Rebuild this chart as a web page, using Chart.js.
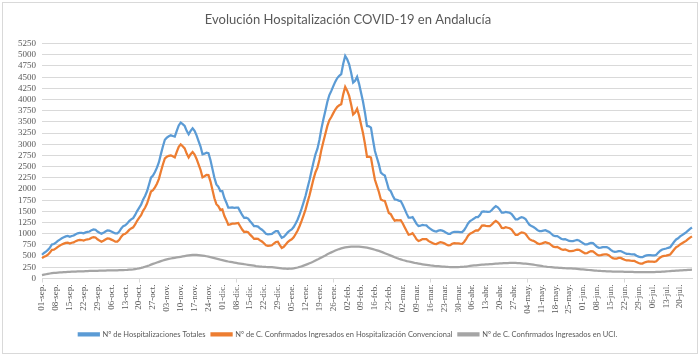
<!DOCTYPE html>
<html>
<head>
<meta charset="utf-8">
<script src="https://cdn.jsdelivr.net/npm/chart.js@4.4.1/dist/chart.umd.min.js"></script>
<style>
html,body{margin:0;padding:0;background:#fff;}
#wrap{width:700px;height:357px;position:relative;}
</style>
</head>
<body>
<div id="wrap"><canvas id="c" width="700" height="357"></canvas></div>
<script>
const chartTitle = "Evolución Hospitalización COVID-19 en Andalucía";
const seriesNames = [
  "Nº de Hospitalizaciones Totales",
  "Nº de C. Confirmados Ingresados en Hospitalización Convencional",
  "Nº de C. Confirmados Ingresados en UCI."
];
const tickLabels = ["01-sep.","08-sep.","15-sep.","22-sep.","29-sep.","06-oct.","13-oct.","20-oct.","27-oct.","03-nov.","10-nov.","17-nov.","24-nov.","01-dic.","08-dic.","15-dic.","22-dic.","29-dic.","05-ene.","12-ene.","19-ene.","26-ene.","02-feb.","09-feb.","16-feb.","23-feb.","02-mar.","09-mar.","16-mar.","23-mar.","30-mar.","06-abr.","13-abr.","20-abr.","27-abr.","04-may.","11-may.","18-may.","25-may.","01-jun.","08-jun.","15-jun.","22-jun.","29-jun.","06-jul.","13-jul.","20-jul."];
const yTicks = {min:0, max:5250, step:250};

const totales = [
530,570,600,640,690,760,770,
800,840,870,900,920,940,950,
930,950,960,990,1010,1020,1020,
1010,1030,1040,1050,1080,1097,1090,
1050,1022,1000,1020,1050,1074,1070,
1050,1030,1007,1007,1050,1120,1171,
1190,1230,1283,1320,1350,1420,1507,
1580,1650,1760,1843,1950,2100,2253,
2300,2380,2477,2600,2780,2950,3100,
3148,3180,3200,3185,3170,3300,3420,
3484,3450,3409,3300,3222,3300,3357,
3300,3200,3073,2950,2775,2790,2812,
2800,2650,2450,2250,2104,2050,1954,
1954,1800,1700,1582,1582,1590,1580,
1582,1582,1500,1420,1357,1360,1340,
1280,1230,1171,1171,1160,1120,1090,
1050,1000,985,990,995,1030,1059,
1059,980,910,930,980,1030,1070,
1097,1150,1230,1320,1432,1560,1700,
1850,2029,2200,2400,2600,2775,2900,
3100,3350,3558,3750,3950,4100,4193,
4300,4400,4480,4530,4566,4800,4976,
4900,4789,4600,4379,4420,4506,4350,
4150,3950,3700,3409,3400,3372,3100,
2850,2700,2550,2365,2327,2300,2150,
1992,1950,1850,1768,1760,1740,1731,
1650,1550,1450,1358,1358,1373,1300,
1220,1171,1180,1200,1190,1186,1140,
1110,1080,1059,1050,1070,1082,1070,
1050,1020,1000,1000,1030,1044,1040,
1040,1037,1037,1080,1150,1230,1283,
1310,1340,1373,1373,1420,1492,1500,
1492,1490,1492,1530,1580,1619,1590,
1540,1470,1470,1490,1480,1470,1440,
1380,1320,1320,1350,1370,1358,1330,
1260,1200,1171,1150,1120,1080,1059,
1059,1070,1080,1059,1040,1000,960,
947,947,920,890,873,880,860,
840,836,836,850,860,850,820,
790,761,761,780,798,790,750,
710,686,690,700,701,701,680,
640,610,597,600,612,612,590,
570,552,552,545,540,537,510,
490,477,477,500,515,522,520,
518,515,530,580,620,649,660,
670,686,700,760,820,873,900,
940,970,1000,1030,1070,1110,1140
];

const convencional = [
455,485,505,535,578,642,646,
672,708,735,762,779,796,803,
781,799,807,835,853,861,860,
848,866,874,882,911,926,918,
877,847,824,843,872,895,890,
869,848,824,823,865,934,983,
1000,1037,1086,1119,1144,1208,1289,
1354,1414,1512,1581,1674,1808,1943,
1974,2038,2119,2227,2392,2548,2684,
2720,2742,2753,2730,2707,2830,2943,
2999,2957,2908,2791,2706,2778,2829,
2770,2672,2549,2431,2262,2285,2315,
2312,2172,1983,1794,1660,1618,1534,
1544,1400,1310,1202,1210,1226,1224,
1234,1242,1167,1094,1038,1047,1033,
980,936,885,893,887,852,826,
789,742,729,736,743,782,816,
821,748,684,709,762,813,852,
875,922,994,1074,1174,1288,1412,
1545,1707,1860,2042,2222,2375,2478,
2654,2880,3064,3234,3410,3538,3609,
3696,3776,3838,3872,3894,4116,4282,
4198,4081,3888,3665,3706,3794,3640,
3444,3248,3004,2721,2722,2704,2444,
2207,2070,1934,1765,1743,1734,1602,
1462,1438,1356,1292,1302,1298,1303,
1236,1148,1060,978,988,1013,950,
878,837,854,882,879,881,841,
817,792,776,771,795,811,803,
786,759,742,744,776,790,786,
784,779,776,816,882,956,1003,
1024,1049,1077,1073,1116,1184,1188,
1177,1172,1171,1206,1253,1289,1257,
1204,1131,1128,1146,1134,1123,1092,
1032,973,975,1008,1031,1023,1000,
935,880,856,841,818,785,771,
778,796,812,797,783,747,711,
702,705,681,654,640,650,632,
614,612,615,632,646,640,614,
588,563,567,590,612,608,572,
536,515,522,534,537,539,520,
482,454,442,446,459,460,439,
420,403,404,398,394,392,366,
346,334,334,358,373,380,378,
375,371,384,432,470,496,504,
511,524,535,592,649,699,723,
760,787,814,841,878,915,942
];

const uci = [
75,85,95,105,112,118,124,
128,132,135,138,141,144,147,
149,151,153,155,157,159,160,
162,164,166,168,169,171,172,
173,175,176,177,178,179,180,
181,182,183,184,185,186,188,
190,193,197,201,206,212,218,
226,236,248,262,276,292,310,
326,342,358,373,388,402,416,
428,438,447,455,463,470,477,
485,493,501,509,516,522,528,
530,528,524,519,513,505,497,
488,478,467,456,444,432,420,
410,400,390,380,372,364,356,
348,340,333,326,319,313,307,
300,294,286,278,273,268,264,
261,258,256,254,252,248,243,
238,232,226,221,218,217,218,
222,228,236,246,258,272,288,
305,322,340,358,378,400,422,
446,470,494,516,540,562,584,
604,624,642,658,672,684,694,
702,708,712,714,714,712,710,
706,702,696,688,678,668,656,
643,630,616,600,584,566,548,
530,512,494,476,458,442,428,
414,402,390,380,370,360,350,
342,334,326,318,311,305,299,
293,288,283,279,275,271,267,
264,261,258,256,254,254,254,
256,258,261,264,268,274,280,
286,291,296,300,304,308,312,
315,318,321,324,327,330,333,
336,339,342,344,346,347,348,
348,347,345,342,339,335,330,
325,320,315,309,302,295,288,
281,274,268,262,257,253,249,
245,242,239,236,233,230,228,
226,224,221,218,214,210,206,
202,198,194,190,186,182,178,
174,171,168,166,164,162,160,
158,156,155,154,153,152,151,
150,149,148,147,146,145,144,
144,143,143,142,142,142,142,
143,144,146,148,150,153,156,
159,162,165,168,171,174,177,
180,183,186,189,192,195,198
];

// daily categories: 01-sep-2020 onward, one per data value
const categories = totales.map((_, i) => {
  const d = new Date(Date.UTC(2020, 8, 1 + i));
  return d.toISOString().slice(0, 10);
});

const FONT = "Lato, 'Liberation Sans', sans-serif";
const AXFONT = "'Liberation Serif', 'DejaVu Serif', serif";
const TXT = '#595959';
const GRID = '#D9D9D9';

const framePlugin = {
  id: 'frame',
  beforeDraw(chart) {
    const ctx = chart.ctx;
    ctx.save();
    ctx.fillStyle = '#fff';
    ctx.fillRect(0, 0, chart.width, chart.height);
    ctx.strokeStyle = '#D9D9D9';
    ctx.lineWidth = 1;
    ctx.strokeRect(2.5, 2.5, chart.width - 5, chart.height - 6);
    ctx.restore();
  }
};

new Chart(document.getElementById('c'), {
  type: 'line',
  data: {
    labels: categories,
    datasets: [
      {label: seriesNames[0], data: totales, borderColor: '#5B9BD5', backgroundColor: '#5B9BD5'},
      {label: seriesNames[1], data: convencional, borderColor: '#ED7D31', backgroundColor: '#ED7D31'},
      {label: seriesNames[2], data: uci, borderColor: '#A5A5A5', backgroundColor: '#A5A5A5'}
    ].map(d => Object.assign(d, {borderWidth: 2.25, pointRadius: 0, tension: 0, fill: false}))
  },
  options: {
    responsive: false,
    animation: false,
    devicePixelRatio: 1,
    layout: {padding: {top: 0, left: 4, right: 8, bottom: 9}},
    plugins: {
      tooltip: {enabled: false},
      title: {
        display: true,
        text: chartTitle,
        color: TXT,
        font: {family: FONT, size: 13, weight: 'normal'},
        padding: {top: 12, bottom: 16}
      },
      legend: {
        position: 'bottom',
        labels: {
          color: TXT,
          font: {family: FONT, size: 7.5},
          boxWidth: 20,
          boxHeight: 2,
          padding: 6
        }
      }
    },
    scales: {
      x: {
        type: 'category',
        offset: false,
        grid: {
          display: true,
          drawOnChartArea: false,
          drawTicks: true,
          tickLength: 4,
          color: (c) => (c.index % 7 === 0 ? GRID : 'rgba(0,0,0,0)')
        },
        border: {display: true, color: GRID},
        ticks: {
          autoSkip: false,
          minRotation: 90,
          maxRotation: 90,
          color: TXT,
          font: {family: AXFONT, size: 9},
          padding: 2,
          callback: (v, i) => (i % 7 === 0 ? tickLabels[i / 7] : null)
        },
        afterFit: (s) => { s.height = 46; }
      },
      y: {
        min: yTicks.min,
        max: yTicks.max,
        grid: {color: GRID, drawTicks: false},
        border: {display: false},
        ticks: {
          autoSkip: false,
          stepSize: yTicks.step,
          color: TXT,
          font: {family: AXFONT, size: 9},
          padding: 6,
          callback: (v) => String(v)
        },
        afterFit: (s) => { s.width = 38; }
      }
    }
  },
  plugins: [framePlugin]
});
</script>
</body>
</html>
